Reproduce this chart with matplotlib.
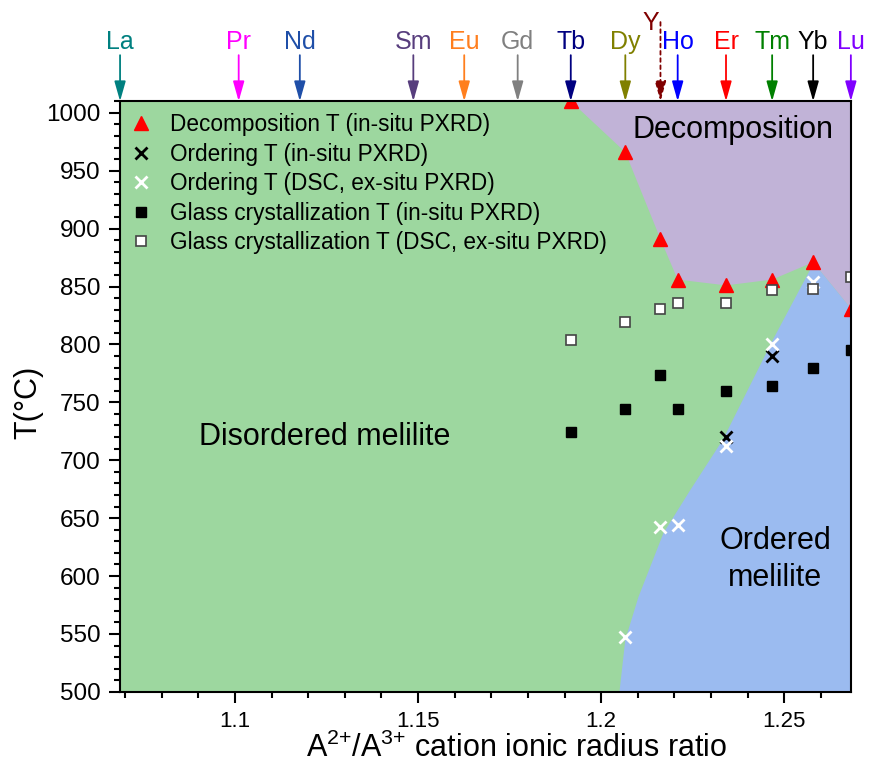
import matplotlib
matplotlib.use('Agg')
import matplotlib.pyplot as plt
from matplotlib.ticker import MultipleLocator, FormatStrFormatter
import matplotlib.transforms as mtransforms

plt.rcParams['font.family'] = ['Liberation Sans', 'DejaVu Sans']
plt.rcParams['mathtext.fontset'] = 'custom'
plt.rcParams['mathtext.rm'] = 'Liberation Sans'
plt.rcParams['mathtext.it'] = 'Liberation Sans:italic'

# A2+/A3+ radius ratio for each rare-earth / Y cation
elements = ["La", "Pr", "Nd", "Sm", "Eu", "Gd", "Tb", "Dy", "Y", "Ho", "Er", "Tm", "Yb", "Lu"]
ratios = [1.0686, 1.1010, 1.1177, 1.1487, 1.1626, 1.1772, 1.1917, 1.2066, 1.2162,
          1.2209, 1.2341, 1.2467, 1.2579, 1.2682]
elem_colors = ["#008080", "#ff00ff", "#1f4fa8", "#573d7d", "#ff7f1e", "#808080", "#000080",
               "#808000", "#800000", "#0000ff", "#ff0000", "#008000", "#000000", "#8000ff"]

# measured temperatures (degC) per cation
decomp_el = ["Tb", "Dy", "Y", "Ho", "Er", "Tm", "Yb", "Lu"]
decomp_T = [1010, 966, 891, 856, 851, 856, 871, 831]
order_insitu_el = ["Er", "Tm"]
order_insitu_T = [720, 790]
order_dsc_el = ["Dy", "Y", "Ho", "Er", "Tm", "Yb"]
order_dsc_T = [547, 642, 644, 712, 800, 854]
glass_insitu_el = ["Tb", "Dy", "Y", "Ho", "Er", "Tm", "Yb", "Lu"]
glass_insitu_T = [724, 744, 774, 744, 760, 764, 780, 795]
glass_dsc_el = ["Tb", "Dy", "Y", "Ho", "Er", "Tm", "Yb", "Lu"]
glass_dsc_T = [804, 819, 831, 836, 836, 847, 848, 858]

# ordered / disordered boundary (ratio, T)
order_bnd_x = [1.2050, 1.2066, 1.2102, 1.2170, 1.2243, 1.2333, 1.2469, 1.2575]
order_bnd_T = [500, 545, 582, 637, 674, 718, 804, 867]

xmin, xmax = ratios[0], ratios[-1]
ymin, ymax = 500, 1010
rx = dict(zip(elements, ratios))


def xs(els):
  return [rx[e] for e in els]


fig = plt.figure(figsize=(8.7, 7.67), dpi=100)
ax = fig.add_axes([0.138, 0.098, 0.840, 0.770])

green = "#9dd79f"
purple = "#c1b3d7"
blue = "#9bbbf0"
ax.set_facecolor(green)

# decomposition region: above the decomposition points
dx = xs(decomp_el)
ax.fill([dx[0]] + dx + [xmax + 0.01, xmax + 0.01],
        [ymax + 20] + decomp_T + [decomp_T[-1], ymax + 20],
        color=purple, lw=0, zorder=1)

# ordered region: right of the ordering boundary, below decomposition
bx = [order_bnd_x[0]] + order_bnd_x + [rx["Yb"], rx["Lu"], xmax + 0.01, xmax + 0.01]
by = [ymin - 20] + order_bnd_T + [decomp_T[-2], decomp_T[-1], decomp_T[-1], ymin - 20]
ax.fill(bx, by, color=blue, lw=0, zorder=1)

ax.plot(xs(decomp_el), decomp_T, ls='none', marker='^', ms=10, color='red', mec='red',
        label='Decomposition T (in-situ PXRD)', zorder=5)
ax.plot(xs(order_insitu_el), order_insitu_T, ls='none', marker='x', ms=9, mew=2, color='black',
        label='Ordering T (in-situ PXRD)', zorder=5)
ax.plot(xs(order_dsc_el), order_dsc_T, ls='none', marker='x', ms=9, mew=2, color='white',
        label='Ordering T (DSC, ex-situ PXRD)', zorder=5)
ax.plot(xs(glass_insitu_el), glass_insitu_T, ls='none', marker='s', ms=7.5, color='black',
        label='Glass crystallization T (in-situ PXRD)', zorder=5)
ax.plot(xs(glass_dsc_el), glass_dsc_T, ls='none', marker='s', ms=7.5, mfc='white', mec='#444444',
        mew=1.2, label='Glass crystallization T (DSC, ex-situ PXRD)', zorder=5)

ax.set_xlim(xmin, xmax)
ax.set_ylim(ymin, ymax)
ax.xaxis.set_major_locator(MultipleLocator(0.05))
ax.xaxis.set_minor_locator(MultipleLocator(0.01))
ax.xaxis.set_major_formatter(FormatStrFormatter('%g'))
ax.yaxis.set_major_locator(MultipleLocator(50))
ax.yaxis.set_minor_locator(MultipleLocator(10))
ax.tick_params(which='both', direction='out', width=1.5)
ax.tick_params(which='major', length=8, pad=6)
ax.tick_params(which='minor', length=4)
ax.tick_params(axis='x', labelsize=16)
ax.tick_params(axis='y', labelsize=17.5)
for s in ax.spines.values():
  s.set_linewidth(1.5)
  s.set_zorder(6)

ax.set_xlabel('A$^{2{+}}$/A$^{3{+}}$ cation ionic radius ratio', fontsize=22)
ax.xaxis.set_label_coords(0.543, -0.07)
ax.set_ylabel('T(°C)', fontsize=22)
ax.yaxis.set_label_coords(-0.105, 0.49)

fs3 = 22
ax.text(1.2360, 985, 'Decomposition', fontsize=fs3, ha='center', va='center', zorder=7)
ax.text(1.1245, 720, 'Disordered melilite', fontsize=fs3, ha='center', va='center', zorder=7)
ax.text(1.2475, 614, 'Ordered\nmelilite', fontsize=fs3, ha='center', va='center',
        linespacing=1.3, zorder=7)

leg = ax.legend(loc='upper left', bbox_to_anchor=(0.0, 1.0), frameon=False, fontsize=16.3,
                handletextpad=0.9, labelspacing=0.29, borderaxespad=0.1, borderpad=0.42,
                handlelength=0.8)
leg.set_zorder(8)

# element markers above the top axis
trans = mtransforms.blended_transform_factory(ax.transData, ax.transAxes)
astyle = '-|>,head_length=0.6,head_width=0.17'
for name, r, c in zip(elements, ratios, elem_colors):
  if name == "Y":
    ax.annotate('', xy=(r, 1.0), xycoords=trans, xytext=(r, 1.134), textcoords=trans,
                arrowprops=dict(arrowstyle=astyle, color=c, lw=1.3, ls=(0, (2, 2)),
                                mutation_scale=20, shrinkA=0, shrinkB=0),
                annotation_clip=False)
    ax.text(r - 0.0027, 1.120, name, transform=trans, color=c, fontsize=18,
            ha='center', va='baseline')
  else:
    ax.annotate('', xy=(r, 1.0), xycoords=trans, xytext=(r, 1.078), textcoords=trans,
                arrowprops=dict(arrowstyle=astyle, color=c, lw=1.3, mutation_scale=20,
                                shrinkA=0, shrinkB=0),
                annotation_clip=False)
    ax.text(r, 1.088, name, transform=trans, color=c, fontsize=18, ha='center', va='baseline')

plt.savefig('out.png', dpi=100)
